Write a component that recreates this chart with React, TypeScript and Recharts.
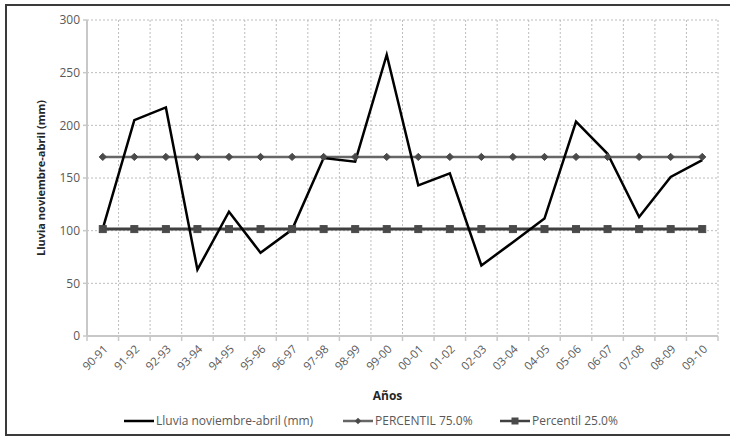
import React from "react";
import { LineChart, Line, XAxis, YAxis, CartesianGrid, Legend } from "recharts";

const years = ["90-91", "91-92", "92-93", "93-94", "94-95", "95-96", "96-97", "97-98", "98-99", "99-00", "00-01", "01-02", "02-03", "03-04", "04-05", "05-06", "06-07", "07-08", "08-09", "09-10"];
const lluvia = [102, 205, 217, 63, 118, 79, 101, 169, 165.5, 267, 143, 154.5, 67, 89, 111.5, 203.5, 173, 113, 151, 167];
const percentil75 = [170, 170, 170, 170, 170, 170, 170, 170, 170, 170, 170, 170, 170, 170, 170, 170, 170, 170, 170, 170];
const percentil25 = [101.5, 101.5, 101.5, 101.5, 101.5, 101.5, 101.5, 101.5, 101.5, 101.5, 101.5, 101.5, 101.5, 101.5, 101.5, 101.5, 101.5, 101.5, 101.5, 101.5];
const yTicks = [0, 50, 100, 150, 200, 250, 300];

const seriesNames = {
  lluvia: "Lluvia noviembre-abril (mm)",
  p75: "PERCENTIL 75.0%",
  p25: "Percentil 25.0%",
};

const data = years.map((y, i) => ({ year: y, lluvia: lluvia[i], p75: percentil75[i], p25: percentil25[i] }));

const FONT = "'Open Sans', sans-serif";
const TEXT = "#595959";
const PLOT_W = 631;
const BW = PLOT_W / years.length;

const XTick = (props: any) => {
  const { x, y, payload, index } = props;
  return (
    <g>
      <line x1={x - BW / 2} x2={x - BW / 2} y1={y} y2={y + 5} stroke="#c8c8c8" strokeWidth={1.5} />
      {index === years.length - 1 && (
        <line x1={x + BW / 2} x2={x + BW / 2} y1={y} y2={y + 5} stroke="#c8c8c8" strokeWidth={1.5} />
      )}
      <text
        transform={`translate(${x + 3},${y + 11}) rotate(-45)`}
        textAnchor="end"
        dy="0.35em"
        fontFamily={FONT}
        fontSize={11.5}
        fill={TEXT}
      >
        {payload.value}
      </text>
    </g>
  );
};

const Diamond = (props: any) => {
  const { cx, cy, index } = props;
  if (cx == null || cy == null) return <g key={index} />;
  const r = 3.6;
  return (
    <polygon
      key={index}
      points={`${cx},${cy - r} ${cx + r},${cy} ${cx},${cy + r} ${cx - r},${cy}`}
      fill="#4a4a4a"
      stroke="#4a4a4a"
    />
  );
};

const Square = (props: any) => {
  const { cx, cy, index } = props;
  if (cx == null || cy == null) return <g key={index} />;
  const s = 7;
  return <rect key={index} x={cx - s / 2} y={cy - s / 2} width={s} height={s} fill="#4a4a4a" stroke="#4a4a4a" />;
};

const LegendContent = () => {
  const item = (icon: React.ReactNode, label: string, w?: number) => (
    <div style={{ display: "flex", alignItems: "center", width: w }}>
      <svg width={31} height={10} style={{ display: "block" }}>
        {icon}
      </svg>
      <span style={{ fontFamily: FONT, fontSize: 12, color: TEXT, marginLeft: 1, whiteSpace: "nowrap" }}>{label}</span>
    </div>
  );
  return (
    <div style={{ display: "flex", paddingLeft: 124 }}>
      {item(<line x1={0} x2={30} y1={5} y2={5} stroke="#000" strokeWidth={2.5} />, seriesNames.lluvia, 219)}
      {item(
        <g>
          <line x1={0} x2={30} y1={5} y2={5} stroke="#666" strokeWidth={2.5} />
          <polygon points="15,1.8 18.2,5 15,8.2 11.8,5" fill="#4a4a4a" />
        </g>,
        seriesNames.p75,
        157
      )}
      {item(
        <g>
          <line x1={0} x2={30} y1={5} y2={5} stroke="#404040" strokeWidth={2.5} />
          <rect x={11.5} y={1.5} width={7} height={7} fill="#4a4a4a" />
        </g>,
        seriesNames.p25
      )}
    </div>
  );
};

export default function App() {
  return (
    <div style={{ position: "absolute", left: 0, top: 0, width: 730, height: 441, background: "#fff", overflow: "hidden" }}>
      <div
        style={{
          position: "absolute",
          left: 5,
          top: 4,
          width: 740,
          height: 432,
          border: "2px solid #3a3a3a",
          boxSizing: "border-box",
        }}
      />
      <div style={{ position: "absolute", left: 0, top: 0 }}>
        <LineChart width={730} height={441} data={data} margin={{ top: 20, right: 12, bottom: 0, left: 0 }}>
          <CartesianGrid
            stroke="#bdbdbd"
            strokeDasharray="2 2"
            verticalCoordinatesGenerator={({ offset }: any) =>
              Array.from({ length: years.length + 1 }, (_, i) => offset.left + (i * offset.width) / years.length)
            }
          />
          <XAxis
            dataKey="year"
            interval={0}
            height={105}
            padding={{ left: BW / 2, right: BW / 2 }}
            tickLine={false}
            tickSize={0}
            tickMargin={0}
            axisLine={{ stroke: "#c8c8c8", strokeWidth: 2 }}
            tick={<XTick />}
            label={{
              value: "Años",
              position: "insideBottom",
              offset: 41,
              dx: -15,
              style: { fontFamily: FONT, fontSize: 12, fontWeight: 700, fill: "#262626" },
            }}
          />
          <YAxis
            width={87}
            domain={[0, 300]}
            ticks={yTicks}
            interval={0}
            tickSize={4}
            tickMargin={3}
            tickLine={{ stroke: "#c8c8c8", strokeWidth: 1.5 }}
            axisLine={{ stroke: "#c8c8c8", strokeWidth: 2 }}
            tick={{ fontFamily: FONT, fontSize: 12, fill: TEXT }}
            label={{
              value: seriesNames.lluvia,
              angle: -90,
              position: "center",
              dx: -2,
              style: { fontFamily: FONT, fontSize: 11, fontWeight: 700, fill: "#262626", textAnchor: "middle" },
            }}
          />
          <Legend
            verticalAlign="middle"
            align="center"
            layout="horizontal"
            wrapperStyle={{ top: 412, left: 0, width: 730 }}
            content={<LegendContent />}
          />
          <Line dataKey="p75" name={seriesNames.p75} stroke="#666666" strokeWidth={2.5} dot={<Diamond />} isAnimationActive={false} />
          <Line dataKey="p25" name={seriesNames.p25} stroke="#404040" strokeWidth={3} dot={<Square />} isAnimationActive={false} />
          <Line dataKey="lluvia" name={seriesNames.lluvia} stroke="#000000" strokeWidth={2.5} dot={false} isAnimationActive={false} />
        </LineChart>
      </div>
    </div>
  );
}
